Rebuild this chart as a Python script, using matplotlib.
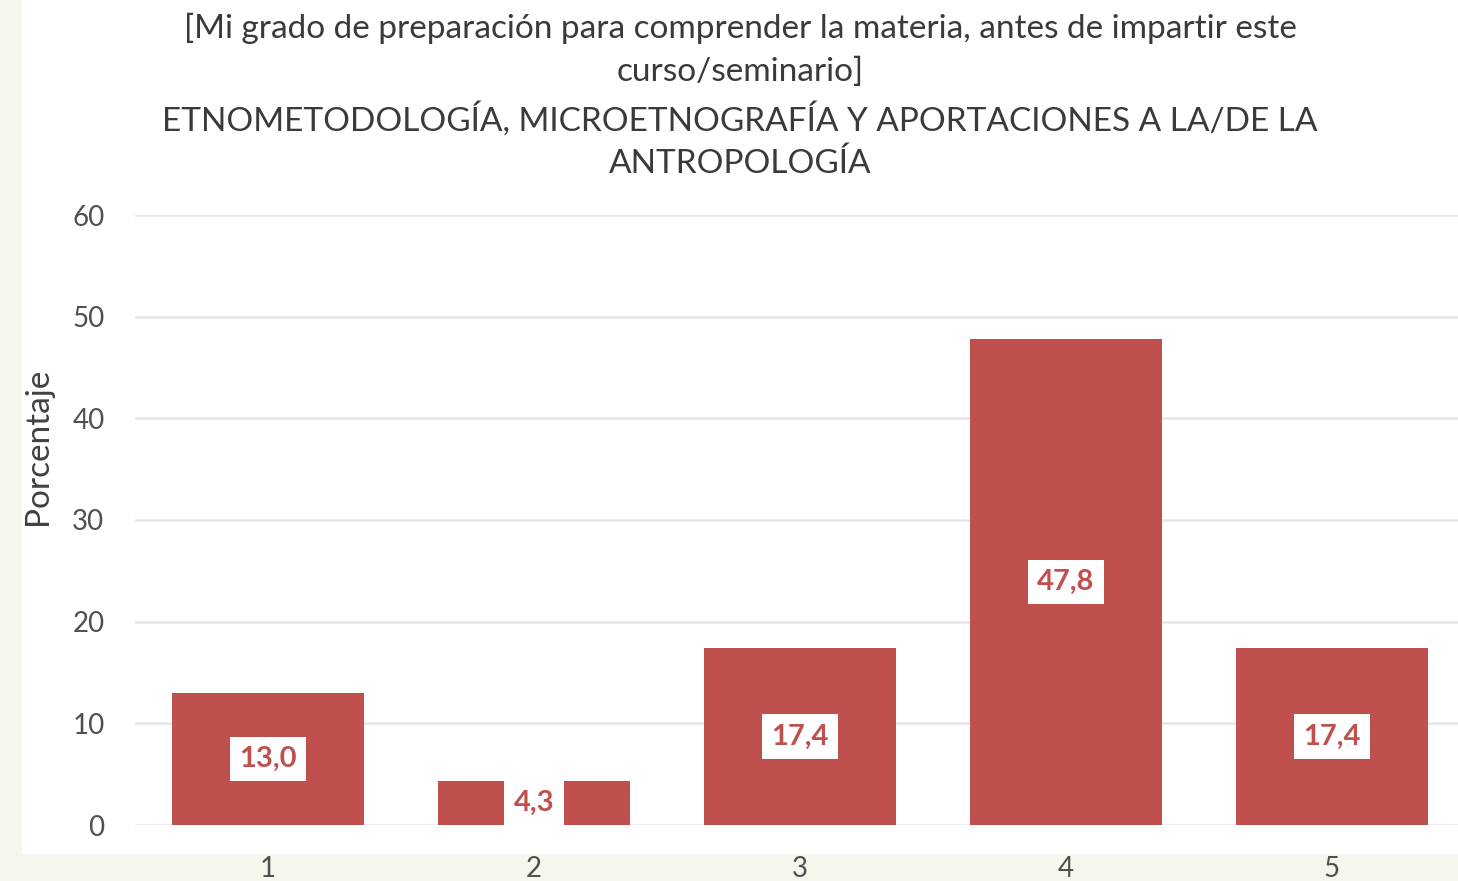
import numpy as np
import matplotlib
matplotlib.use('Agg')
import matplotlib.pyplot as plt
from matplotlib.patches import Rectangle

categorias = ['1', '2', '3', '4', '5']
porcentajes = [13.0, 4.3, 17.4, 47.8, 17.4]
etiquetas = ['13,0', '4,3', '17,4', '47,8', '17,4']
yticks = [0, 10, 20, 30, 40, 50, 60]

titulo = ("[Mi grado de preparación para comprender la materia, antes de impartir este\n"
          "curso/seminario]\n"
          "ETNOMETODOLOGÍA, MICROETNOGRAFÍA Y APORTACIONES A LA/DE LA\n"
          "ANTROPOLOGÍA")

plt.rcParams['font.family'] = ['Lato', 'DejaVu Sans']

W, H = 1458, 881
fig = plt.figure(figsize=(W / 100, H / 100), dpi=100)
fig.patch.set_facecolor('#f5f6ec')
# zona blanca del gráfico
fig.patches.append(Rectangle((22 / W, 27 / H), 1.0, 1.0, transform=fig.transFigure,
                             facecolor='white', edgecolor='none', zorder=-5))

ax = fig.add_axes([135 / W, 56 / H, 1330 / W, 610 / H])
ax.set_facecolor('none')
ax.set_zorder(2)

x = np.arange(1, len(categorias) + 1)
ax.bar(x, porcentajes, width=0.72, color='#c0504d', zorder=3)

for xi, v, lab in zip(x, porcentajes, etiquetas):
    ax.text(xi, v / 2, lab, ha='center', va='center', fontsize=21, fontweight='bold',
            color='#c0504d', zorder=4,
            bbox=dict(boxstyle='square,pad=0.32', facecolor='white', edgecolor='none'))

ax.set_xlim(0.5, 5.5)
ax.set_ylim(0, 60)
ax.set_yticks(yticks)
ax.set_xticks(x)
ax.set_xticklabels(categorias)
ax.yaxis.grid(True, color='#e6e6e6', linewidth=1.8, zorder=0)
ax.set_axisbelow(True)
for s in ax.spines.values():
    s.set_visible(False)
ax.tick_params(axis='both', length=0, labelsize=20, labelcolor='#505050')
ax.tick_params(axis='y', pad=22)
ax.tick_params(axis='x', pad=22)
ax.set_ylabel('Porcentaje', fontsize=24, color='#404040')
ax.yaxis.set_label_coords(-82 / 1330, 0.62)

fig.text(740 / W, 1 - 13 / H, titulo, ha='center', va='top', fontsize=24,
         color='#3a3a3a', linespacing=1.5, zorder=3)

fig.savefig('out.png', dpi=100, facecolor=fig.get_facecolor())
